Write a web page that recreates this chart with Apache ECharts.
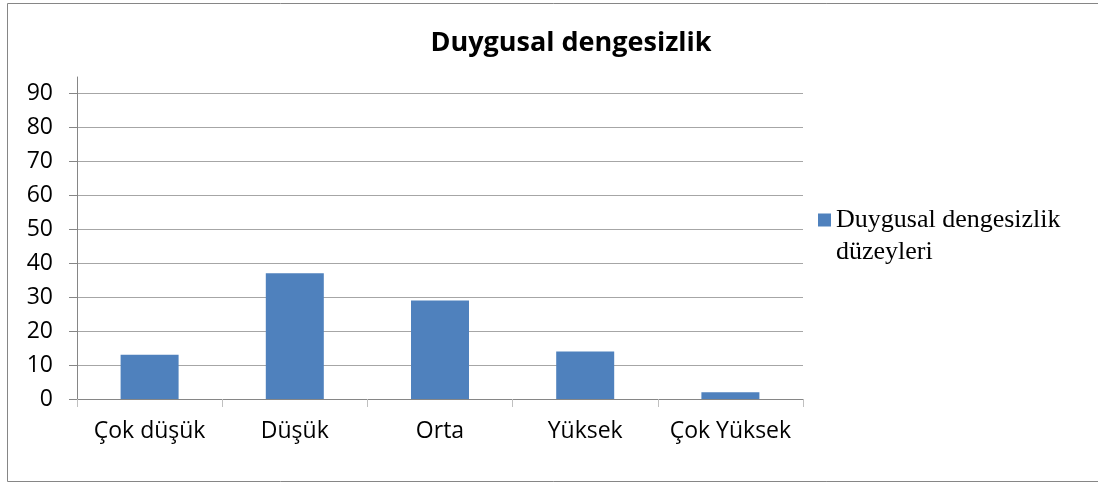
<!DOCTYPE html>
<html>
<head>
<meta charset="utf-8">
<script src="https://cdn.jsdelivr.net/npm/echarts@6/dist/echarts.min.js"></script>
<style>
  html, body { margin: 0; padding: 0; background: #fff; }
  #main { width: 1098px; height: 485px; }
</style>
</head>
<body>
<div id="main"></div>
<script>
// veriler
var kategoriler = ['Çok düşük', 'Düşük', 'Orta', 'Yüksek', 'Çok Yüksek'];
var degerler = [13, 37, 29, 14, 2];
var seriAdi = 'Duygusal dengesizlik düzeyleri';
var baslik = 'Duygusal dengesizlik';

var myChart = echarts.init(document.getElementById('main'));

var option = {
  backgroundColor: '#fff',
  animation: false,
  title: {
    text: baslik,
    left: 566,
    textAlign: 'center',
    top: 25,
    textStyle: { fontFamily: 'Open Sans', fontWeight: 'bold', fontSize: 27, color: '#000' }
  },
  legend: {
    data: [seriAdi],
    orient: 'vertical',
    left: 818,
    top: 204,
    padding: 0,
    itemWidth: 13,
    itemHeight: 45,
    // kare işaret ilk satırın hizasında dursun
    icon: 'path://M0 0H13V13H0Z M0 45H0.01V45.01H0Z',
    formatter: function () { return 'Duygusal dengesizlik\ndüzeyleri'; },
    textStyle: { fontFamily: 'Liberation Serif', fontSize: 26, color: '#000', lineHeight: 32 }
  },
  graphic: [{
    type: 'rect',
    shape: { x: 7.5, y: 3.5, width: 1100, height: 478 },
    style: { fill: 'none', stroke: '#868686', lineWidth: 1 },
    silent: true
  }],
  grid: [
    // sadece dikey eksen çizgisinin üst uzantısı için
    { left: 77, right: 295, top: 77, bottom: 86, containLabel: false },
    { left: 77, right: 295, top: 93, bottom: 86, containLabel: false }
  ],
  xAxis: [{
    type: 'category',
    gridIndex: 0,
    data: kategoriler,
    show: false
  }, {
    type: 'category',
    gridIndex: 1,
    data: kategoriler,
    axisLine: { lineStyle: { color: '#868686' } },
    axisTick: { show: true, length: 8, lineStyle: { color: '#c0c0c0' } },
    axisLabel: { interval: 0, hideOverlap: false, fontFamily: 'Open Sans', fontSize: 23, color: '#000', margin: 21 }
  }],
  yAxis: [{
    type: 'value',
    gridIndex: 0,
    min: 0,
    max: 1,
    axisLine: { show: true, lineStyle: { color: '#868686' } },
    axisTick: { show: false },
    axisLabel: { show: false },
    splitLine: { show: false }
  }, {
    type: 'value',
    gridIndex: 1,
    min: 0,
    max: 90,
    interval: 10,
    axisLine: { show: true, lineStyle: { color: '#868686' } },
    axisTick: { show: true, length: 8, lineStyle: { color: '#868686' } },
    axisLabel: { fontFamily: 'Open Sans', fontSize: 23, color: '#000', margin: 24 },
    splitLine: { lineStyle: { color: '#a6a6a6' } }
  }],
  series: [{
    name: seriAdi,
    type: 'bar',
    xAxisIndex: 1,
    yAxisIndex: 1,
    data: degerler,
    barWidth: 58,
    itemStyle: { color: '#4F81BD' }
  }]
};

myChart.setOption(option);
</script>
</body>
</html>
